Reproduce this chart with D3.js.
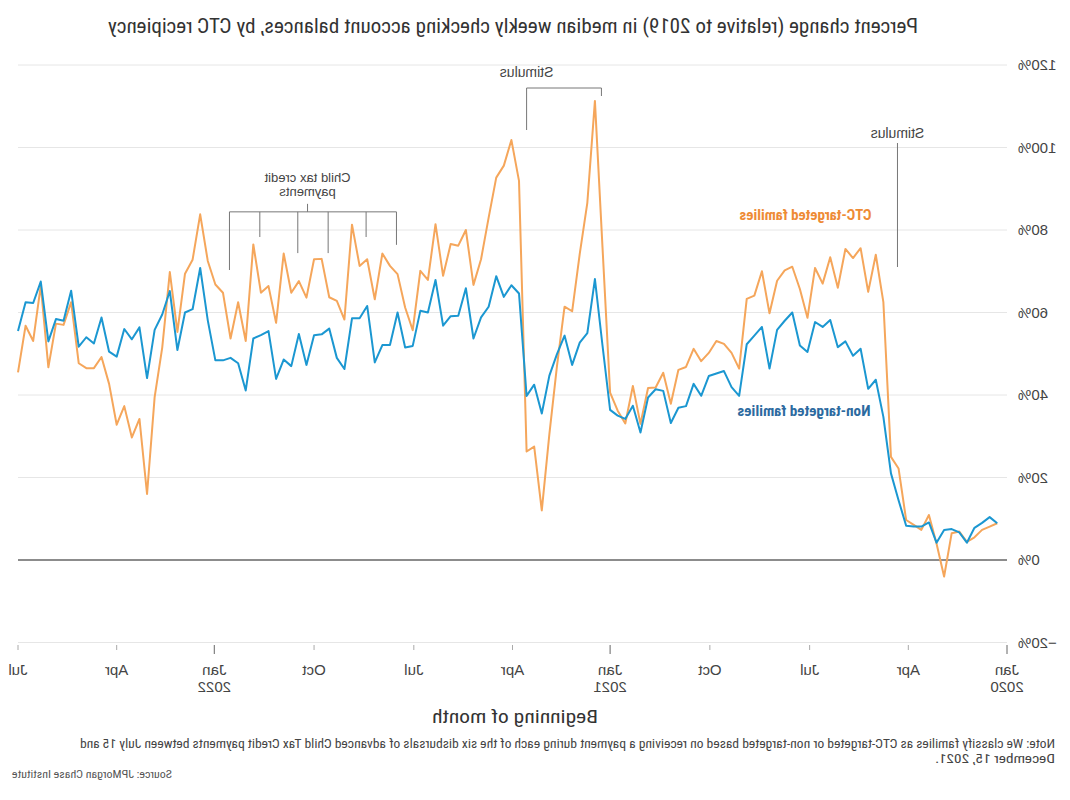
<!DOCTYPE html>
<html>
<head>
<meta charset="utf-8">
<script src="https://cdn.jsdelivr.net/npm/d3@7"></script>
<style>
  html, body { margin: 0; padding: 0; background: #fff; }
  svg { display: block; }
  text { font-family: "Liberation Sans Narrow", "Arial Narrow", "Roboto Condensed", sans-serif; }
</style>
</head>
<body>
<svg id="chart" width="1070" height="800"></svg>
<script>
// ---------------- DATA ----------------
const firstWeek = "2020-01-10"; // weekly observations
const ctcTargeted = [
  8.9, 8.1, 7.3, 5.5, 4.4, 6.9, 6.5, -4.0, 4.0, 10.9,
  7.3, 8.5, 9.7, 22.2, 25, 62.5, 74, 65, 75.6, 73.2,
  75.4, 66, 73.4, 67, 70.8, 58.7, 65.7, 71.1, 70.2, 67.7,
  59.8, 70, 64.1, 63.3, 46.4, 50.2, 52.4, 53.1, 50.2, 48.2,
  51.2, 46.8, 46.1, 37.9, 45.4, 41.8, 41.7, 33, 42.2, 33.1,
  36.2, 40.6, 75.8, 111.3, 86.6, 74.2, 60.3, 61.4, 47, 30.5,
  12, 27.5, 26.3, 91.9, 101.8, 95.6, 92.7, 83, 72.9, 66.7,
  80, 76.2, 76.6, 68.9, 81.4, 67.9, 70.1, 55.7, 61.2, 69.3,
  71.3, 74.3, 63.2, 72.9, 71.3, 81.3, 58.3, 62.8, 63.7, 73,
  72.9, 63.6, 67.6, 64.8, 74.3, 57.5, 66.4, 64.8, 76.5, 53.1,
  62.5, 53.7, 64.8, 66.8, 72.5, 83.8, 72.8, 69.4, 55.3, 69.8,
  51.5, 39.5, 16, 34.2, 29.7, 37.3, 32.8, 42.7, 49.2, 46.5,
  46.5, 47.7, 62.5, 57, 57.3, 46.7, 66.5, 53.1, 56.8, 45.5
];
const nonTargeted = [
  8.9, 10.4, 9.0, 7.8, 4.2, 6.7, 7.5, 7.3, 4.2, 9.1,
  8.1, 8.1, 8.3, 14.5, 21, 34.7, 43.7, 41.5, 51.2, 49.5,
  53, 51.6, 58.2, 56.5, 57.7, 50.4, 52, 60, 58, 55.8,
  46.4, 56.5, 54.4, 52.3, 39.8, 41.9, 45.8, 45.2, 44.6, 39.8,
  42.7, 37.3, 36.9, 33.2, 41, 41.4, 39.4, 30.9, 37.4, 34.2,
  35, 36.4, 52, 68.1, 55, 52.7, 47.3, 54.4, 49.9, 44.7,
  35.5, 42.5, 39.8, 64.6, 66.6, 63.8, 68.8, 61.4, 58.8, 53.7,
  65.9, 59.2, 59.1, 56.8, 67.9, 60, 60.4, 51.9, 51.5, 60,
  52.1, 52.1, 47.9, 61.6, 58.6, 58.6, 46.3, 49, 56.1, 54.7,
  54.5, 47.3, 54.8, 47, 48.6, 43.9, 55.5, 54.5, 53.7, 41.1,
  47.7, 49, 48.4, 48.4, 58.1, 70.8, 60.8, 60, 50.9, 65.2,
  59.5, 55.8, 44.1, 56.4, 53.5, 56, 49.3, 50.5, 58.8, 52.5,
  54, 51.7, 65.3, 58, 58.4, 53, 67.5, 62.3, 62.5, 55.5
];
const yTicks = [-20, 0, 20, 40, 60, 80, 100, 120];
const xTickDates = ["2020-01-01","2020-04-01","2020-07-01","2020-10-01","2021-01-01","2021-04-01","2021-07-01","2021-10-01","2022-01-01","2022-04-01","2022-07-01"];
const monthNames = ["Jan","Feb","Mar","Apr","May","Jun","Jul","Aug","Sep","Oct","Nov","Dec"];
const ctcPaymentDates = ["2021-07-17","2021-08-14","2021-09-18","2021-10-16","2021-11-20","2021-12-18"];
const ctcLegEnds = [76.4, 78.3, 74.4, 74.4, 78.3, 70.3];
const stimulusDates = ["2020-04-11","2021-01-09","2021-03-19"];

const titleText = "Percent change (relative to 2019) in median weekly checking account balances, by CTC recipiency";
const xAxisTitle = "Beginning of month";
const note1 = "Note: We classify families as CTC-targeted or non-targeted based on receiving a payment during each of the six disbursals of advanced Child Tax Credit payments between July 15 and";
const note2 = "December 15, 2021.";
const sourceText = "Source: JPMorgan Chase Institute";

// ---------------- CHART ----------------
const parse = d3.timeParse("%Y-%m-%d");
const start = parse(firstWeek);
const dates = ctcTargeted.map((_, i) => d3.timeDay.offset(start, 7 * i));

const COL_CTC = "#f5a65b", COL_NON = "#1b97d1";
const LBL_CTC = "#ee8b35", LBL_NON = "#2c6aa0";
const regular = "'Liberation Sans', Arial, sans-serif";

const svg = d3.select("#chart");
// the reference is a horizontally mirrored picture
const root = svg.append("g").attr("transform", "translate(1070,0) scale(-1,1)");

const x = d3.scaleTime().domain([parse("2020-01-01"), parse("2022-07-01")]).range([63, 1052]);
const y = d3.scaleLinear().domain([-20, 120]).range([642.5, 65]);

// gridlines
root.append("g").selectAll("line").data(yTicks).join("line")
  .attr("x1", x.range()[0]).attr("x2", x.range()[1])
  .attr("y1", d => y(d)).attr("y2", d => y(d))
  .attr("stroke", d => d === 0 ? "#666" : "#e6e6e6")
  .attr("stroke-width", d => d === 0 ? 1.6 : 1);

// y labels
root.append("g").selectAll("text").data(yTicks).join("text")
  .attr("x", 52).attr("y", d => y(d)).attr("dy", "0.35em")
  .attr("text-anchor", "end").attr("font-size", 15).attr("fill", "#444")
  .style("font-family", regular)
  .text(d => (d < 0 ? "\u2212" + Math.abs(d) : d) + "%");

// x ticks
const xt = xTickDates.map(parse);
root.append("g").selectAll("line").data(xt).join("line")
  .attr("x1", d => x(d)).attr("x2", d => x(d))
  .attr("y1", 645).attr("y2", d => d.getMonth() === 0 ? 654 : 650)
  .attr("stroke", d => d.getMonth() === 0 ? "#666" : "#aaa").attr("stroke-width", 1);
const xl = root.append("g").selectAll("text").data(xt).join("text")
  .attr("x", d => x(d)).attr("y", 675).attr("text-anchor", "middle")
  .attr("font-size", 15).attr("fill", "#444").style("font-family", regular);
xl.append("tspan").attr("x", d => x(d)).text(d => monthNames[d.getMonth()]);
xl.filter(d => d.getMonth() === 0).append("tspan").attr("x", d => x(d)).attr("dy", 17)
  .text(d => d.getFullYear());

// lines
const line = d3.line().x((d, i) => x(dates[i])).y(d => y(d));
root.append("path").datum(ctcTargeted).attr("d", line).attr("fill", "none")
  .attr("stroke", COL_CTC).attr("stroke-width", 2).attr("stroke-linejoin", "round");
root.append("path").datum(nonTargeted).attr("d", line).attr("fill", "none")
  .attr("stroke", COL_NON).attr("stroke-width", 2).attr("stroke-linejoin", "round");

// series labels
root.append("text").attr("x", x(parse("2020-05-05"))).attr("y", y(82.4))
  .attr("font-size", 15).attr("font-weight", "bold").attr("fill", LBL_CTC)
  .attr("textLength", 132).attr("lengthAdjust", "spacingAndGlyphs").text("CTC-targeted families");
root.append("text").attr("x", x(parse("2020-05-06"))).attr("y", y(34.9))
  .attr("font-size", 15).attr("font-weight", "bold").attr("fill", LBL_NON)
  .attr("textLength", 133).attr("lengthAdjust", "spacingAndGlyphs").text("Non-targeted families");

// annotations
const ann = root.append("g").attr("stroke", "#777").attr("stroke-width", 1).attr("fill", "none");
// stimulus 1 (single)
const s0 = x(parse(stimulusDates[0]));
ann.append("line").attr("x1", s0).attr("x2", s0).attr("y1", 143).attr("y2", 267);
root.append("text").attr("x", s0).attr("y", 138).attr("text-anchor", "middle")
  .attr("font-size", 14).attr("fill", "#444").style("font-family", regular).text("Stimulus");
// stimulus 2 (bracket)
const s1 = x(parse(stimulusDates[1])), s2 = x(parse(stimulusDates[2]));
ann.append("path").attr("d", `M${s1},96V88H${s2}V130`);
root.append("text").attr("x", s2).attr("y", 77).attr("text-anchor", "middle")
  .attr("font-size", 14).attr("fill", "#444").style("font-family", regular).text("Stimulus");
// CTC bracket
const barY = y(84.4);
const cx = ctcPaymentDates.map(d => x(parse(d)));
ann.append("line").attr("x1", d3.min(cx)).attr("x2", d3.max(cx)).attr("y1", barY).attr("y2", barY);
ann.selectAll(".leg").data(cx).join("line").attr("class", "leg")
  .attr("x1", d => d).attr("x2", d => d).attr("y1", barY).attr("y2", (d, i) => y(ctcLegEnds[i]));
const midX = x(parse("2021-10-07"));
ann.append("line").attr("x1", midX).attr("x2", midX).attr("y1", barY - 8).attr("y2", barY);
root.append("text").attr("x", midX).attr("y", 182).attr("text-anchor", "middle")
  .attr("font-size", 13).attr("fill", "#444").style("font-family", regular).text("Child tax credit");
root.append("text").attr("x", midX).attr("y", 196).attr("text-anchor", "middle")
  .attr("font-size", 13).attr("fill", "#444").style("font-family", regular).text("payments");

// titles and notes
root.append("text").attr("x", 513 + 0).attr("y", 33).attr("text-anchor", "middle")
  .attr("transform", "translate(44,0)")
  .attr("font-size", 20).attr("fill", "#333")
  .attr("textLength", 810).attr("lengthAdjust", "spacingAndGlyphs").text(titleText);
root.append("text").attr("x", 555).attr("y", 723).attr("text-anchor", "middle")
  .attr("font-size", 19).attr("fill", "#333")
  .attr("textLength", 166).attr("lengthAdjust", "spacingAndGlyphs").text(xAxisTitle);
root.append("text").attr("x", 15).attr("y", 748).attr("font-size", 12.5).attr("fill", "#444")
  .attr("textLength", 975).attr("lengthAdjust", "spacingAndGlyphs").text(note1);
root.append("text").attr("x", 15).attr("y", 763).attr("font-size", 12.5).attr("fill", "#444")
  .attr("textLength", 120).attr("lengthAdjust", "spacingAndGlyphs").text(note2);
root.append("text").attr("x", 898).attr("y", 778)
  .attr("font-size", 11.5).attr("fill", "#555")
  .attr("textLength", 160).attr("lengthAdjust", "spacingAndGlyphs").text(sourceText);
</script>
</body>
</html>
